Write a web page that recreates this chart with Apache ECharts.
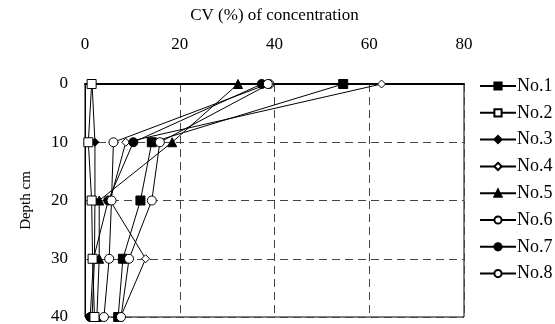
<!DOCTYPE html>
<html><head><meta charset="utf-8">
<script src="https://cdn.jsdelivr.net/npm/echarts@6/dist/echarts.min.js"></script>
<style>html,body{margin:0;padding:0;background:#fff}#c{width:555px;height:324px}</style>
</head><body><div id="c"></div>
<script>
const depths = [0, 10, 20, 30, 40];
const xTicks = [0, 20, 40, 60, 80];
const names = ['No.1','No.2','No.3','No.4','No.5','No.6','No.7','No.8'];
const no1 = [54.5, 14.1, 11.7, 8.0, 7.0];
const no2 = [1.4, 0.7, 1.4, 1.6, 2.0];
const no3 = [1.5, 2.1, 2.1, 2.0, 1.5];
const no4 = [62.6, 8.6, 5.3, 12.8, 7.5];
const no5 = [32.3, 18.4, 3.0, 3.0, 2.5];
const no6 = [38.9, 15.8, 14.1, 9.3, 7.6];
const no7 = [37.3, 10.2, 4.9, 1.8, 1.1];
const no8 = [38.6, 6.0, 5.6, 5.1, 4.0];
const values = [no1,no2,no3,no4,no5,no6,no7,no8];
const symbols = ['rect','rect','diamond','diamond','triangle','circle','circle','circle'];
const filled = [true,false,true,false,true,false,true,false];
const sizes = [9,9,8,8,9,9,9,9];
const font = 'Liberation Serif';
const series = names.map((n,i)=>({
  name:n, type:'line', symbol:symbols[i], symbolSize:sizes[i],
  z: i===1 ? 3 : 2,
  data: values[i].map((v,j)=>[v, depths[j]]),
  lineStyle:{color:'#000', width:1},
  itemStyle:{color: filled[i]?'#000':'#fff', borderColor:'#000', borderWidth:1},
  emphasis:{disabled:true}
}));
const chart = echarts.init(document.getElementById('c'), null, {renderer:'canvas'});
chart.setOption({
  animation:false,
  backgroundColor:'#fff',
  grid:{left:85, right:91, top:84, bottom:7, show:true, borderColor:'#000', borderWidth:1,
    containLabel:false, outerBoundsMode:'none'},
  xAxis:{type:'value', position:'top', min:0, max:80, interval:20,
    name:'CV (%) of concentration', nameLocation:'middle', nameGap:60,
    nameTextStyle:{fontFamily:font, fontSize:17, color:'#000'},
    axisLine:{show:true, lineStyle:{color:'#000', width:2}},
    axisTick:{show:false},
    axisLabel:{fontFamily:font, fontSize:17, color:'#000', margin:31},
    splitLine:{show:true, lineStyle:{color:'#444', type:[8,5], width:1}}},
  yAxis:{type:'value', inverse:true, min:0, max:40, interval:10,
    name:'Depth cm', nameLocation:'middle', nameGap:51, nameRotate:90,
    nameTextStyle:{fontFamily:font, fontSize:15, color:'#000'},
    axisLine:{show:true, lineStyle:{color:'#000', width:1}},
    axisTick:{show:false},
    axisLabel:{fontFamily:font, fontSize:17, color:'#000', margin:17},
    splitLine:{show:true, lineStyle:{color:'#444', type:[8,5], width:1}}},
  legend:{orient:'vertical', left:474, top:72, itemWidth:36, itemHeight:9, itemGap:8.8,
    textStyle:{fontFamily:font, fontSize:18, color:'#000', padding:[0,0,0,-4]},
    data:names},
  series:series
});
</script></body></html>
